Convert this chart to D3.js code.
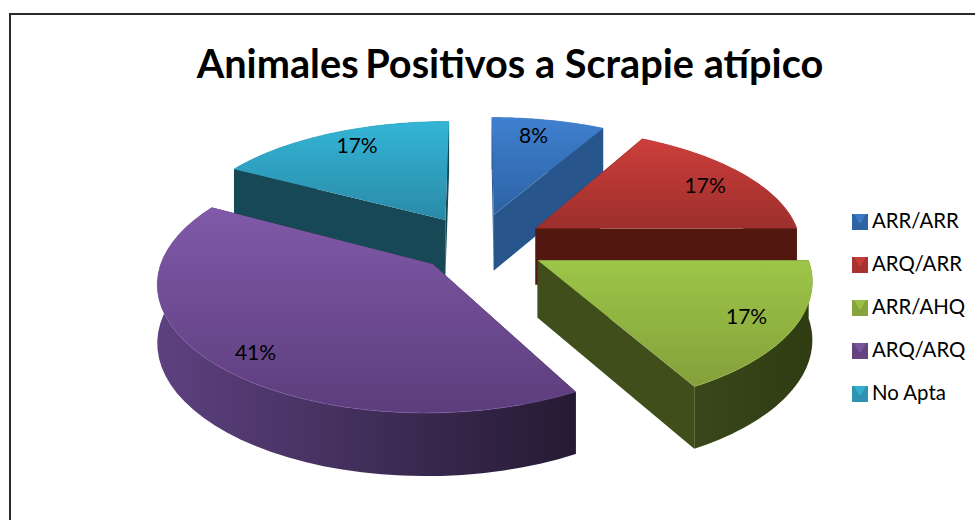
<!DOCTYPE html>
<html><head><meta charset="utf-8">
<script src="https://cdn.jsdelivr.net/npm/d3@7"></script>
<style>html,body{margin:0;padding:0;background:#fff}svg{display:block}text{font-family:Lato,"Open Sans",sans-serif;fill:#000}</style>
</head><body><script>
const categories = ["ARR/ARR","ARQ/ARR","ARR/AHQ","ARQ/ARQ","No Apta"];
const values = [8,17,17,41,17];
const titleText = "Animales Positivos a Scrapie atípico";
const topColors = [["#3f80cf","#2c62a4"],["#cd3e3b","#9c2f2c"],["#9dc648","#84a03b"],["#8059a8","#5c3d7c"],["#34b5d6","#2a8aa8"]];
const cutColors = ["#28568c","#52170f","#3f4e1b","#2a1c3c","#164856"];
const wallColors = [["#28568c","#28568c"],["#52170f","#52170f"],["#39471a","#2f3c12"],["#5d4180","#251a33"],["#164856","#164856"]];
const swatchColors = ["#2f63a3","#a8322f","#86a33c","#64437f","#2f93b0"];
const drawOrder = [4,0,1,3,2];
const explodes = [.26,.26,.26,.23,.24];
const labelOffsets=[[-1,-7],[18,-1],[29,10],[-25,21],[-3,-8]];

const W=975,H=520, perspX=.135, perspY=.15, labelRadius=.72;
const svg=d3.select("body").append("svg").attr("width",W).attr("height",H);
svg.append("rect").attr("x",10).attr("y",14).attr("width",W+20).attr("height",H+20).attr("fill","#fff").attr("stroke","#2a2a2a").attr("stroke-width",2);

const sx=d3.scaleLinear().domain([0,1]).range([477,743]);
const sy=d3.scaleLinear().domain([0,1]).range([244,364]);
const project=(X,Y)=>{const s=1/(1-perspX*Y);return {x:sx(X*s),y:sy(Y/(1-perspY*Y)),s};};
const drop=p=>57*Math.pow(p.s,.6);
const line=d3.line().x(d=>d.x).y(d=>d.y);
const pie=d3.pie().sort(null).startAngle(0).endAngle(2*Math.PI)(values);
const defs=svg.append("defs");

const slices=pie.map(d=>{
  const e=explodes[d.index], mid=(d.startAngle+d.endAngle)/2, ox=e*Math.sin(mid), oy=-e*Math.cos(mid);
  const pt=a=>project(ox+Math.sin(a),oy-Math.cos(a));
  const rim=d3.range(0,41).map(t=>pt(d.startAngle+(d.endAngle-d.startAngle)*t/40));
  return {i:d.index,apex:project(ox,oy),rim,value:d.value,mid,ox,oy};
});
const down=p=>({x:p.x,y:p.y+drop(p)});

const pieG=svg.append("g");
drawOrder.forEach(i=>{
  const s=slices[i], g=pieG.append("g");
  const ext=d3.extent(s.rim.concat(s.apex),p=>p.y), extX=d3.extent(s.rim,p=>p.x);
  const tid="top"+i, wid="wall"+i;
  const tg=defs.append("linearGradient").attr("id",tid).attr("gradientUnits","userSpaceOnUse").attr("x1",0).attr("x2",0).attr("y1",ext[0]).attr("y2",ext[1]);
  tg.append("stop").attr("offset",0).attr("stop-color",topColors[i][0]);
  tg.append("stop").attr("offset",1).attr("stop-color",topColors[i][1]);
  const wg=defs.append("linearGradient").attr("id",wid).attr("gradientUnits","userSpaceOnUse").attr("x1",extX[0]).attr("x2",extX[1]).attr("y1",0).attr("y2",0);
  wg.append("stop").attr("offset",0).attr("stop-color",wallColors[i][0]);
  wg.append("stop").attr("offset",1).attr("stop-color",wallColors[i][1]);
  const first=s.rim[0], last=s.rim[s.rim.length-1];
  [first,last].forEach(e=>{
    g.append("path").attr("d",line([s.apex,e,down(e),down(s.apex)])+"Z").attr("fill",cutColors[i]);
  });
  g.append("path").attr("d",line(s.rim.concat(s.rim.map(down).reverse()))+"Z").attr("fill",`url(#${wid})`);
  g.append("path").attr("d",line([s.apex].concat(s.rim))+"Z").attr("fill",`url(#${tid})`);
  g.append("path").attr("d",line(s.rim)).attr("fill","none").attr("stroke",topColors[i][0]).attr("stroke-opacity",.55).attr("stroke-width",1);
  s.lp=project(s.ox+labelRadius*Math.sin(s.mid),s.oy-labelRadius*Math.cos(s.mid));
});
const labelG=svg.append("g");
slices.forEach((s,i)=>{
  labelG.append("text").attr("x",s.lp.x+labelOffsets[i][0]).attr("y",s.lp.y+labelOffsets[i][1]).attr("text-anchor","middle").attr("dominant-baseline","middle").attr("font-size",21).text(values[i]+"%");
});

const title=svg.append("text").attr("x",510).attr("y",78).attr("text-anchor","middle").attr("font-size",39.7).attr("font-weight",700);
const words=titleText.split(" ");
title.append("tspan").text(words[0]);
title.append("tspan").attr("dx",-3).text(" "+words.slice(1).join(" "));

const legY=d3.scalePoint().domain(categories).range([223,395]);
const leg=svg.append("g");
categories.forEach((c,i)=>{
  const y=legY(c), x=852;
  leg.append("rect").attr("x",x).attr("y",y-9).attr("width",16).attr("height",16).attr("fill",swatchColors[i]);
  leg.append("path").attr("d",line([{x:x+2,y:y-9},{x:x+14,y:y-9},{x:x+9,y:y},{x:x+7,y:y}])+"Z").attr("fill",topColors[i][0]).attr("opacity",.8);
  leg.append("text").attr("x",872).attr("y",y).attr("dominant-baseline","middle").attr("font-size",20.4).text(c);
});
</script></body></html>
